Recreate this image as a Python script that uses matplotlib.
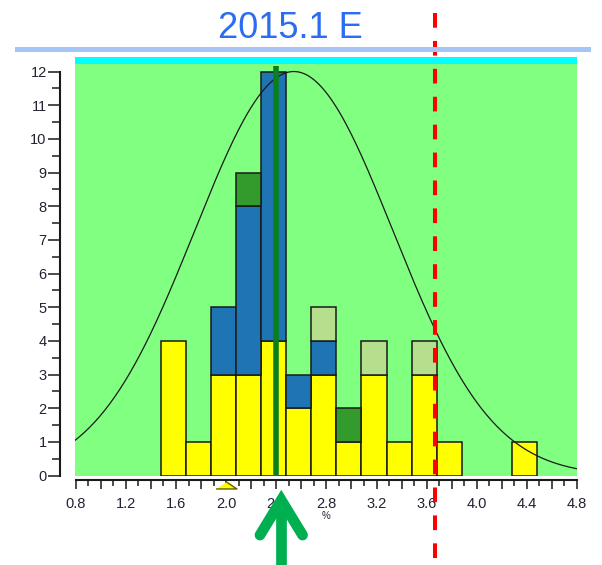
import numpy as np
import matplotlib.pyplot as plt
from matplotlib.lines import Line2D
from matplotlib.transforms import blended_transform_factory

plt.rcParams['font.family'] = ['Liberation Sans', 'DejaVu Sans']

# histogram bins (left edges) and stacked counts per group
bin_left = [1.48, 1.68, 1.88, 2.08, 2.28, 2.48, 2.68, 2.88, 3.08, 3.28, 3.48, 3.68, 3.88, 4.08, 4.28]
bin_width = 0.2
yellow_counts = [4, 1, 3, 3, 4, 2, 3, 1, 3, 1, 3, 1, 0, 0, 1]
blue_counts = [0, 0, 2, 5, 8, 1, 1, 0, 0, 0, 0, 0, 0, 0, 0]
dark_green_counts = [0, 0, 0, 1, 0, 0, 0, 1, 0, 0, 0, 0, 0, 0, 0]
light_green_counts = [0, 0, 0, 0, 0, 0, 1, 0, 1, 0, 1, 0, 0, 0, 0]
layer_colors = ['#ffff00', '#1f74b4', '#339a2c', '#b5df8c']

# fitted normal curve
curve_mean = 2.54
curve_sd = 0.79
curve_peak = 12.0

median_value = 2.40
limit_value = 3.67
target_value = 2.0
arrow_value = 2.44

x_ticks = [0.8, 1.0, 1.2, 1.4, 1.6, 1.8, 2.0, 2.2, 2.4, 2.6, 2.8, 3.0, 3.2, 3.4, 3.6, 3.8, 4.0, 4.2, 4.4, 4.6, 4.8]
x_tick_labels = ['0.8', '', '1.2', '', '1.6', '', '2.0', '', '2.4', '', '2.8', '', '3.2', '', '3.6', '',
                 '4.0', '', '4.4', '', '4.8']
y_ticks = list(range(13))

W, H = 602, 565
fig = plt.figure(figsize=(W / 100, H / 100), dpi=100)
ax = fig.add_axes([74.5 / W, (H - 475.5) / H, (577 - 74.5) / W, (475.5 - 56.7) / H])
ax.set_xlim(0.79, 4.8)
ax.set_ylim(0, 12.44)
ax.set_facecolor('#80ff80')
ax.axhspan(12.21, 12.44, color='#00ffff', lw=0, zorder=1)

# stacked bars
bottom = np.zeros(len(bin_left))
lefts = np.array(bin_left)
for layer, color in zip([yellow_counts, blue_counts, dark_green_counts, light_green_counts], layer_colors):
    h = np.array(layer, dtype=float)
    keep = h > 0
    ax.bar(lefts[keep], h[keep], width=bin_width, bottom=bottom[keep], align='edge',
           color=color, edgecolor='#1a1a1a', linewidth=1.1, zorder=2)
    bottom += h

xs = np.linspace(0.79, 4.8, 400)
ax.plot(xs, curve_peak * np.exp(-0.5 * ((xs - curve_mean) / curve_sd) ** 2),
        color='#1a1a1a', lw=0.9, zorder=4)

# median line
ax.plot([median_value, median_value], [0, 12.15], color='#0a7f1e', lw=4,
        solid_capstyle='butt', zorder=5)

# target marker under the axis
ax.plot(target_value, -0.28, marker=[(-3, -1), (3, -1), (0, 1)], ms=15,
        mfc='#ffff00', mec='#5f5f00', mew=1, clip_on=False, zorder=6)

# limit line across the whole figure height
trans = blended_transform_factory(ax.transData, fig.transFigure)
ax.plot([limit_value, limit_value], [1 - 12.8 / H, 1 - 562 / H], transform=trans,
        color='#ff0000', lw=2.9, linestyle=(0, (3.65, 3.28)), clip_on=False, zorder=7)

# green arrow pointing at the axis
apex_y, wing_y, tail_y, wing_dx = -0.73, -1.77, -2.9, 0.17
ax.plot([arrow_value, arrow_value], [tail_y, apex_y], color='#00b050', lw=7.7,
        solid_capstyle='butt', clip_on=False, zorder=8)
ax.plot([arrow_value - wing_dx, arrow_value, arrow_value + wing_dx], [wing_y, apex_y, wing_y],
        color='#00b050', lw=7.7, solid_capstyle='round', solid_joinstyle='miter',
        clip_on=False, zorder=8)

# axes styling
for side in ['top', 'right']:
    ax.spines[side].set_visible(False)
ax.spines['left'].set_position(('outward', 14.5 * 0.72))
ax.spines['left'].set_bounds(0, 12)
ax.spines['bottom'].set_position(('outward', 4.5 * 0.72))
ax.spines['bottom'].set_bounds(0.8, 4.8)
for side in ['left', 'bottom']:
    ax.spines[side].set_linewidth(1.5)
    ax.spines[side].set_color('#1a1a1a')

ax.set_yticks(y_ticks)
ax.set_yticks(np.arange(0.5, 12, 1), minor=True)
ax.set_xticks(x_ticks)
ax.set_xticklabels(x_tick_labels)
ax.set_xticks(np.arange(0.9, 4.8, 0.2), minor=True)
ax.tick_params(axis='y', which='major', length=8.6, width=1.1, pad=1, labelsize=10.5,
               labelcolor='#222233', color='#1a1a1a')
ax.tick_params(axis='y', which='minor', length=5.8, width=1.1, color='#1a1a1a')
ax.tick_params(axis='x', which='major', length=6.5, width=1.1, pad=6, labelsize=10.5,
               labelcolor='#222233', color='#1a1a1a')
ax.tick_params(axis='x', which='minor', length=4.0, width=1.1, color='#1a1a1a')
ax.set_xlabel('%', fontsize=7, labelpad=0, color='#222233')

# title and separator
fig.text(290.5 / W, 1 - 38 / H, '2015.1 E', ha='center', va='baseline', fontsize=26, color='#2b6cf0')
fig.add_artist(Line2D([17 / W, 588 / W], [1 - 48.5 / H, 1 - 48.5 / H], color='#a4c6f7', lw=3.6))

fig.savefig('out.png', dpi=100)
